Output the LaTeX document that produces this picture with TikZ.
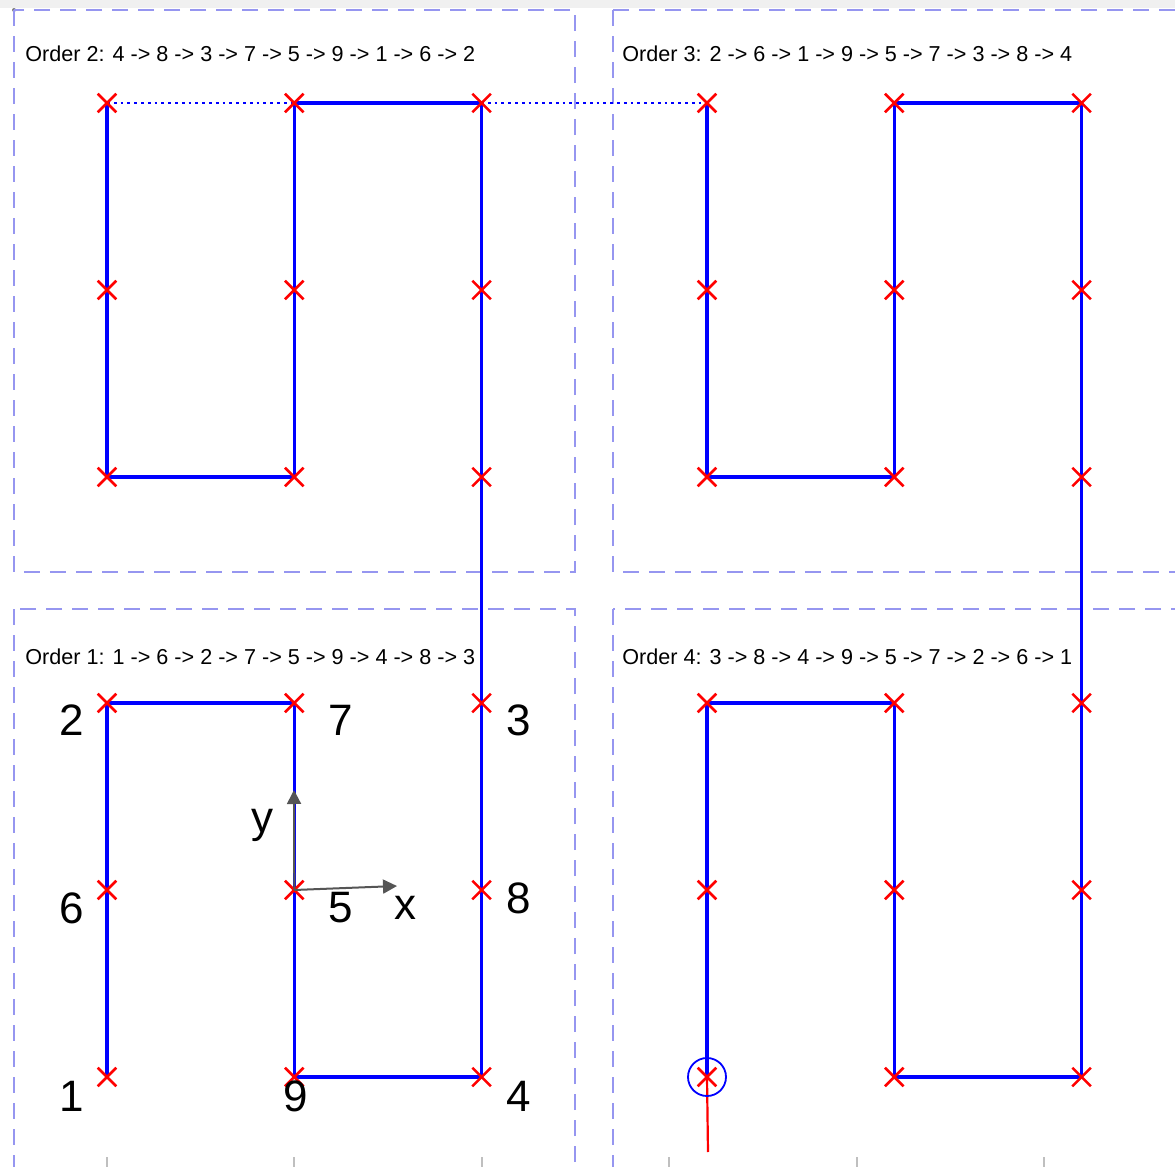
\documentclass[tikz,border=0pt]{standalone}
\usepackage{fontspec}
\setmainfont{Liberation Sans}
\usepackage{xcolor}
\usetikzlibrary{shapes.misc, arrows.meta, positioning}

\definecolor{boxblue}{RGB}{150,150,240}
\definecolor{axisgray}{RGB}{85,85,85}

\begin{document}
\begin{tikzpicture}[x=0.5pt, y=-0.5pt,
    wp/.style={cross out, draw=red, line width=1.3pt, minimum size=8pt, inner sep=0pt},
    route/.style={draw=blue, line width=1.7pt, line join=round},
    quad/.style={draw=boxblue, line width=0.6pt, dash pattern=on 8pt off 5pt},
    title/.style={anchor=west, inner sep=0pt, font=\fontsize{10.8}{12}\selectfont},
    num/.style={font=\fontsize{22}{24}\selectfont},
    axis/.style={draw=axisgray, line width=1pt, -{Triangle[length=7pt, width=7pt]}}]
    \useasboundingbox (0,0) rectangle (1175,1167);
    \fill[gray!12] (0,0) rectangle (1175,8);
    \fill[gray] (14,10) circle (2);

    % quadrants
    \begin{scope}
    	\clip (0,0) rectangle (1175,1167);
    	\draw[quad] (14,10) rectangle (575,572);
    	\draw[quad] (613,10) rectangle (1190,572);
    	\draw[quad] (14,609) rectangle (575,1190);
    	\draw[quad] (613,609) rectangle (1190,1190);
    \end{scope}

    \node[title] (t2) at (25,54) {Order 2: 4 -> 8 -> 3 -> 7 -> 5 -> 9 -> 1 -> 6 -> 2};
    \node[title] (t3) at (622,54) {Order 3: 2 -> 6 -> 1 -> 9 -> 5 -> 7 -> 3 -> 8 -> 4};
    \node[title] (t1) at (25,657) {Order 1: 1 -> 6 -> 2 -> 7 -> 5 -> 9 -> 4 -> 8 -> 3};
    \node[title] (t4) at (622,657) {Order 4: 3 -> 8 -> 4 -> 9 -> 5 -> 7 -> 2 -> 6 -> 1};

    % waypoints of each quadrant
    \foreach \q/\bx/\by in {1/107/703, 2/107/103, 3/707/103, 4/707/703}
    	\foreach \n/\c/\r in {2/0/0, 7/1/0, 3/2/0, 6/0/1, 5/1/1, 8/2/1, 1/0/2, 9/1/2, 4/2/2}
    		\coordinate (q\q n\n) at ({\bx+187.3*\c},{\by+187*\r});

    % route
    \draw[route] (q1n1) -- (q1n6) -- (q1n2) -- (q1n7) -- (q1n5) -- (q1n9) -- (q1n4) -- (q1n8) -- (q1n3)
    	-- (q2n4) -- (q2n8) -- (q2n3) -- (q2n7) -- (q2n5) -- (q2n9) -- (q2n1) -- (q2n6) -- (q2n2);
    \draw[route, line width=1.4pt, dotted] (q2n2) -- (q3n2);
    \draw[route] (q3n2) -- (q3n6) -- (q3n1) -- (q3n9) -- (q3n5) -- (q3n7) -- (q3n3) -- (q3n8) -- (q3n4)
    	-- (q4n3) -- (q4n8) -- (q4n4) -- (q4n9) -- (q4n5) -- (q4n7) -- (q4n2) -- (q4n6) -- (q4n1);

    % start
    \coordinate (tail) at (708,1152);
    \draw[red, line width=1.1pt] (q4n1) -- (tail);
    \node[circle, draw=blue, line width=0.9pt, minimum size=19pt, inner sep=0pt] (start) at (q4n1) {};

    \foreach \q in {1,2,3,4}
    	\foreach \n in {1,...,9}
    		\node[wp] at (q\q n\n) {};

    % frame
    \coordinate (yend) at (294,790);
    \coordinate (xend) at (397,886);
    \draw[axis] (q1n5) -- (yend);
    \draw[axis] (q1n5) -- (xend);
    \node[num] (ylab) at (262,825) {y};
    \node[num] (xlab) at (405,908) {x};

    % numbers
    \node[num] (l2) at (72,720) {2};
    \node[num] (l7) at (341,720) {7};
    \node[num] (l3) at (519,720) {3};
    \node[num] (l6) at (72,908) {6};
    \node[num] (l5) at (341,908) {5};
    \node[num] (l8) at (519,898) {8};
    \node[num] (l1) at (72,1096) {1};
    \node[num] (l9) at (296,1096) {9};
    \node[num] (l4) at (519,1096) {4};

    % ticks
    \foreach \x in {107,294,482,669,857,1044}
    	\draw[gray!50, line width=0.6pt] (\x,1157) -- (\x,1167);
\end{tikzpicture}
\end{document}
